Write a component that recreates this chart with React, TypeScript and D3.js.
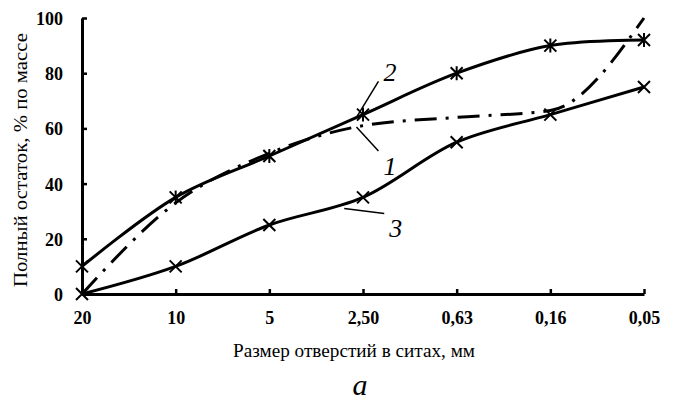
import React, { useEffect, useRef } from "react";
import * as d3 from "d3";

// sieve sizes, mm (labels as printed)
const sieves = ["20", "10", "5", "2,50", "0,63", "0,16", "0,05"];
const yTicks = [0, 20, 40, 60, 80, 100];

// full residue, % by mass
const curve1 = [0, 33, 51, 61, 64, 66.5, 100]; // dash-dot, no markers
const curve2 = [10, 35, 50, 65, 80, 90, 92]; // solid, asterisk
const curve3 = [0, 10, 25, 35, 55, 65, 75]; // solid, cross

// callouts: pointer end given as (category index, value), label offset in px
const callouts = [
  { text: "2", at: 2.93, value: 64, lx: 24, ly: -36 },
  { text: "1", at: 2.93, value: 60.5, lx: 24, ly: 28 },
  { text: "3", at: 2.8, value: 31, lx: 42, ly: 9 },
];

const W = 689;
const H = 403;
const FONT = "Liberation Serif, DejaVu Serif, serif";

export default function App() {
  const ref = useRef<SVGSVGElement>(null);

  useEffect(() => {
    const svg = d3.select(ref.current);
    svg.selectAll("*").remove();

    const x = d3.scalePoint<string>().domain(sieves).range([82, 644]);
    const xi = d3.scaleLinear().domain([0, sieves.length - 1]).range([82, 644]);
    const y = d3.scaleLinear().domain([0, 100]).range([294, 18]);

    // axes
    const gx = svg
      .append("g")
      .attr("transform", `translate(0,${y(0)})`)
      .call(d3.axisBottom(x).tickSizeInner(-5).tickSizeOuter(0).tickPadding(26));
    const gy = svg
      .append("g")
      .attr("transform", `translate(${x("20")},0)`)
      .call(d3.axisLeft(y).tickValues(yTicks).tickSizeInner(-5).tickSizeOuter(0).tickPadding(19));

    [gx, gy].forEach((g) => {
      g.attr("font-family", FONT).attr("font-size", 18).attr("font-weight", "bold");
      g.select(".domain").attr("stroke", "#000").attr("stroke-width", 3);
      g.selectAll(".tick line").attr("stroke", "#000").attr("stroke-width", 2.5);
      g.selectAll(".tick text").attr("fill", "#000");
    });
    gy.selectAll(".tick text").attr("dy", "0.36em");
    gx.selectAll(".tick text").attr("dy", "0.2em");

    const smooth = d3
      .line<number>()
      .x((_, i) => xi(i))
      .y((d) => y(d))
      .curve(d3.curveCatmullRom.alpha(0.5));
    const mono = d3
      .line<number>()
      .x((_, i) => xi(i))
      .y((d) => y(d))
      .curve(d3.curveMonotoneX);

    const plot = svg.append("g");

    plot
      .append("path")
      .attr("d", mono(curve1))
      .attr("fill", "none")
      .attr("stroke", "#000")
      .attr("stroke-width", 3)
      .attr("stroke-dasharray", "22,9,3,9");

    [curve2, curve3].forEach((c) => {
      plot
        .append("path")
        .attr("d", smooth(c))
        .attr("fill", "none")
        .attr("stroke", "#000")
        .attr("stroke-width", 3);
    });

    // markers
    const m = 6;
    const cross = (px: number, py: number) =>
      `M${px - m},${py - m}L${px + m},${py + m}M${px - m},${py + m}L${px + m},${py - m}`;

    plot
      .selectAll("path.star")
      .data(curve2)
      .join("path")
      .attr("class", "star")
      .attr("d", (d, i) => cross(xi(i), y(d)) + `M${xi(i)},${y(d) - m - 1}L${xi(i)},${y(d) + m + 1}`)
      .attr("stroke", "#000")
      .attr("stroke-width", 2);

    plot
      .selectAll("path.cross")
      .data(curve3)
      .join("path")
      .attr("class", "cross")
      .attr("d", (d, i) => cross(xi(i), y(d)))
      .attr("stroke", "#000")
      .attr("stroke-width", 2);

    // callouts
    const ann = svg.append("g").attr("font-family", FONT).attr("font-size", 26).attr("font-style", "italic");
    callouts.forEach((c) => {
      const px = xi(c.at);
      const py = y(c.value);
      ann
        .append("line")
        .attr("x1", px)
        .attr("y1", py)
        .attr("x2", px + c.lx - 2)
        .attr("y2", py + c.ly + (c.ly < 0 ? 0 : -4))
        .attr("stroke", "#000")
        .attr("stroke-width", 1.5);
      ann
        .append("text")
        .attr("x", px + c.lx + 3)
        .attr("y", py + c.ly)
        .attr("dy", c.ly < 0 ? "0" : "0.75em")
        .attr("text-anchor", "start")
        .text(c.text);
    });

    // titles
    svg
      .append("text")
      .attr("x", 354)
      .attr("y", 357)
      .attr("text-anchor", "middle")
      .attr("textLength", 242)
      .attr("lengthAdjust", "spacingAndGlyphs")
      .attr("font-family", FONT)
      .attr("font-size", 18)
      .text("Размер отверстий в ситах, мм");

    svg
      .append("text")
      .attr("transform", "translate(27,160) rotate(-90)")
      .attr("text-anchor", "middle")
      .attr("textLength", 254)
      .attr("lengthAdjust", "spacingAndGlyphs")
      .attr("font-family", FONT)
      .attr("font-size", 18)
      .text("Полный остаток, % по массе");

    svg
      .append("text")
      .attr("x", 360)
      .attr("y", 395)
      .attr("text-anchor", "middle")
      .attr("font-family", FONT)
      .attr("font-size", 30)
      .attr("font-style", "italic")
      .text("а");
  }, []);

  return (
    <div style={{ position: "absolute", left: 0, top: 0 }}>
      <svg ref={ref} width={W} height={H} style={{ display: "block", background: "#fff" }} />
    </div>
  );
}
